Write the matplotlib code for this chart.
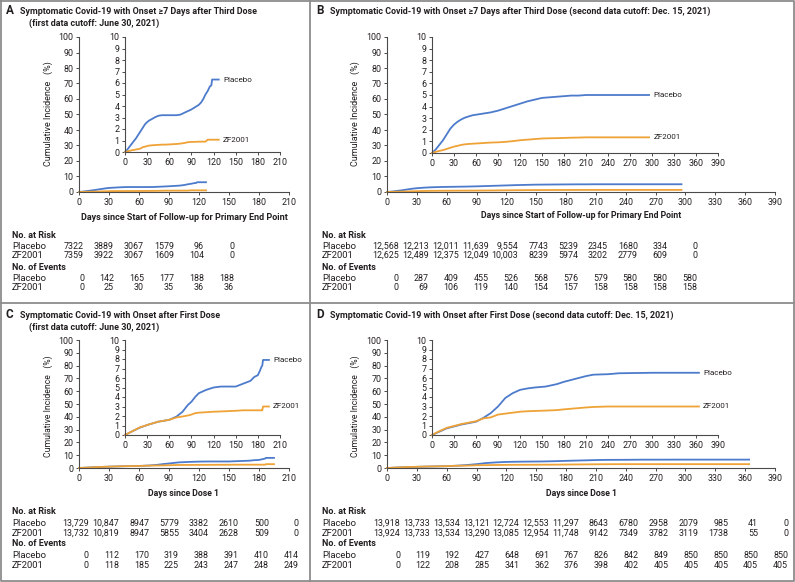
import numpy as np
import matplotlib
matplotlib.use("Agg")
import matplotlib.pyplot as plt
from matplotlib import transforms as mtransforms
from matplotlib.lines import Line2D

plt.rcParams['font.family'] = ['Roboto', 'DejaVu Sans']

W, H = 795, 582
BLUE = '#4d7bcb'
ORANGE = '#efa236'
INK = '#231f20'
AXC = '#4a4a4a'

# ---- curve data (cumulative incidence, %) ----
# A: onset >=7 days after third dose, first cutoff
a_days = [0, 3, 6, 9, 12, 15, 18, 21, 24, 27, 30, 33, 36, 40, 45, 50, 55, 60, 65, 70,
          75, 80, 85, 90, 95, 100, 103, 106, 109, 112, 115, 117, 118, 127]
a_placebo = [0, 0.2, 0.45, 0.7, 0.95, 1.2, 1.5, 1.8, 2.1, 2.4, 2.6, 2.75, 2.85, 3.0, 3.15, 3.2,
             3.2, 3.2, 3.2, 3.2, 3.25, 3.4, 3.55, 3.7, 3.9, 4.1, 4.3, 4.6, 5.0, 5.3, 5.7, 5.8, 6.3, 6.3]
a_zf = [0, 0.05, 0.1, 0.15, 0.18, 0.22, 0.25, 0.3, 0.42, 0.46, 0.52, 0.56, 0.58, 0.6, 0.62, 0.64,
        0.64, 0.66, 0.68, 0.7, 0.73, 0.78, 0.85, 0.88, 0.88, 0.9, 0.9, 0.9, 0.9, 1.07, 1.07, 1.07, 1.07, 1.07]

# B: onset >=7 days after third dose, second cutoff
b_days = [0, 5, 10, 15, 20, 25, 30, 35, 40, 45, 50, 55, 60, 70, 80, 90, 100, 110, 120, 130,
          140, 150, 160, 170, 180, 190, 200, 210, 240, 270, 296]
b_placebo = [0, 0.3, 0.7, 1.1, 1.6, 2.1, 2.45, 2.7, 2.9, 3.05, 3.15, 3.25, 3.3, 3.4, 3.5, 3.65,
             3.85, 4.05, 4.25, 4.45, 4.6, 4.75, 4.8, 4.85, 4.9, 4.95, 4.95, 5.0, 5.0, 5.0, 5.0]
b_zf = [0, 0.1, 0.18, 0.25, 0.35, 0.45, 0.55, 0.62, 0.7, 0.75, 0.78, 0.8, 0.82, 0.86, 0.9, 0.92,
        0.96, 1.02, 1.1, 1.15, 1.2, 1.25, 1.27, 1.28, 1.3, 1.32, 1.33, 1.35, 1.35, 1.35, 1.35]

# C: onset after first dose, first cutoff
c_days = [0, 10, 20, 30, 45, 60, 70, 78, 85, 90, 95, 100, 110, 120, 130, 150, 160, 170, 175,
          180, 183, 185, 186, 187, 195]
c_placebo = [0, 0.4, 0.77, 1.05, 1.4, 1.6, 1.95, 2.45, 3.15, 3.5, 4.0, 4.4, 4.75, 5.0, 5.1, 5.1,
             5.4, 5.7, 6.1, 6.3, 6.8, 7.2, 7.3, 7.9, 7.9]
c_zf = [0, 0.4, 0.8, 1.05, 1.4, 1.6, 1.85, 1.95, 2.05, 2.15, 2.3, 2.35, 2.4, 2.45, 2.48, 2.55,
        2.6, 2.6, 2.6, 2.6, 2.6, 2.6, 2.6, 3.0, 3.0]

# D: onset after first dose, second cutoff
d_days = [0, 10, 20, 30, 40, 50, 60, 70, 80, 90, 100, 110, 120, 130, 140, 155, 170, 180, 195,
          210, 220, 240, 255, 300, 364]
d_placebo = [0, 0.35, 0.7, 0.9, 1.1, 1.25, 1.4, 1.8, 2.3, 3.0, 3.9, 4.4, 4.75, 4.9, 5.0, 5.1,
             5.35, 5.6, 5.9, 6.2, 6.35, 6.4, 6.5, 6.55, 6.55]
d_zf = [0, 0.4, 0.75, 0.95, 1.15, 1.3, 1.45, 1.75, 1.85, 2.15, 2.25, 2.35, 2.45, 2.5, 2.53,
        2.57, 2.62, 2.7, 2.8, 2.9, 2.95, 3.0, 3.0, 3.0, 3.0]

# ---- risk tables ----
a_risk_pl = ['7322', '3889', '3067', '1579', '96', '0']
a_risk_zf = ['7359', '3922', '3067', '1609', '104', '0']
a_ev_pl = ['0', '142', '165', '177', '188', '188']
a_ev_zf = ['0', '25', '30', '35', '36', '36']

b_risk_pl = ['12,568', '12,213', '12,011', '11,639', '9,554', '7743', '5239', '2345', '1680', '334', '0']
b_risk_zf = ['12,625', '12,489', '12,375', '12,049', '10,003', '8239', '5974', '3202', '2779', '609', '0']
b_ev_pl = ['0', '287', '409', '455', '526', '568', '576', '579', '580', '580', '580']
b_ev_zf = ['0', '69', '106', '119', '140', '154', '157', '158', '158', '158', '158']

c_risk_pl = ['13,729', '10,847', '8947', '5779', '3382', '2610', '500', '0']
c_risk_zf = ['13,732', '10,819', '8947', '5855', '3404', '2628', '509', '0']
c_ev_pl = ['0', '112', '170', '319', '388', '391', '410', '414']
c_ev_zf = ['0', '118', '185', '225', '243', '247', '248', '249']

d_risk_pl = ['13,918', '13,733', '13,534', '13,121', '12,724', '12,553', '11,297', '8643',
             '6780', '2958', '2079', '985', '41', '0']
d_risk_zf = ['13,924', '13,733', '13,534', '13,290', '13,085', '12,954', '11,748', '9142',
             '7349', '3782', '3119', '1738', '55', '0']
d_ev_pl = ['0', '119', '192', '427', '648', '691', '767', '826', '842', '849', '850', '850', '850', '850']
d_ev_zf = ['0', '122', '208', '285', '341', '362', '376', '398', '402', '405', '405', '405', '405', '405']

fig = plt.figure(figsize=(W / 100, H / 100), dpi=100)
renderer = fig.canvas.get_renderer()


def fx(x):
    return x / W


def fy(y):
    return 1 - y / H


def box(l, r, t, b):
    return [fx(l), fy(b), (r - l) / W, (b - t) / H]


def fit(t, target):
    # scale the font so the text spans target pixels
    bb = t.get_window_extent(renderer)
    w = bb.height if t.get_rotation() == 90 else bb.width
    t.set_fontsize(t.get_fontsize() * target / w)
    return t


def ftext(x, y, s, target=None, **kw):
    kw.setdefault('color', INK)
    kw.setdefault('va', 'center')
    t = fig.text(fx(x), fy(y), s, **kw)
    if target:
        fit(t, target)
    return t


def fitted_size(s, target, **kw):
    t = ftext(0, 0, s, target=target, **kw)
    fs = t.get_fontsize()
    t.remove()
    return fs


NUM_FS = fitted_size('13,918', 27, fontsize=7)
LAB_FS = NUM_FS * 1.06
HEAD_FS = fitted_size('No. at Risk', 44, fontsize=7, fontweight='bold')
SER_FS = fitted_size('Placebo', 29, fontsize=7)


def style_ax(ax, xmax, ymax, ystep):
    for side in ['top', 'right']:
        ax.spines[side].set_visible(False)
    for side in ['left', 'bottom']:
        ax.spines[side].set_color(AXC)
        ax.spines[side].set_linewidth(0.8)
    ax.set_xlim(0, xmax)
    ax.set_ylim(0, ymax)
    ax.set_xticks(np.arange(0, xmax + 1, 30))
    ax.set_yticks(np.arange(0, ymax + 0.01, ystep))
    ax.tick_params(length=2.5, width=0.7, color=AXC, labelsize=6.4, labelcolor=INK, pad=1.5)
    ax.patch.set_alpha(0)


def panel(days, pl, zf, main_box, inset_box, xmax):
    ax = fig.add_axes(main_box)
    style_ax(ax, xmax, 100, 10)
    ax.plot(days, pl, color=BLUE, lw=1.3, clip_on=False)
    ax.plot(days, zf, color=ORANGE, lw=1.3, clip_on=False)
    ins = fig.add_axes(inset_box)
    ins.set_facecolor('white')
    style_ax(ins, xmax, 10, 1)
    ins.patch.set_alpha(1)
    ins.plot(days, pl, color=BLUE, lw=1.3, clip_on=False)
    ins.plot(days, zf, color=ORANGE, lw=1.3, clip_on=False)
    for name, v in [('Placebo', pl[-1]), ('ZF2001', zf[-1])]:
        ins.annotate(name, (days[-1], v), xytext=(3, 0), textcoords='offset points',
                     va='center', ha='left', fontsize=SER_FS, color=INK)
    return ax


def table(ax, row_x, ys, rows, off_px):
    blend = mtransforms.blended_transform_factory(ax.transData, fig.transFigure)
    tr = mtransforms.offset_copy(blend, fig=fig, x=off_px * 72 / 100, y=0, units='points')
    heads = ['No. at Risk', None, None, 'No. of Events', None, None]
    names = [None, 'Placebo', 'ZF2001', None, 'Placebo', 'ZF2001']
    r = 0
    for i, y in enumerate(ys):
        if heads[i]:
            ftext(row_x, y, heads[i], fontsize=HEAD_FS, fontweight='bold')
            continue
        ftext(row_x, y, names[i], fontsize=LAB_FS)
        for k, v in enumerate(rows[r]):
            ax.text(30 * k, fy(y), v, transform=tr, ha='right', va='center',
                    fontsize=NUM_FS, color=INK)
        r += 1


# ---- panels ----
axA = panel(a_days, a_placebo, a_zf, box(79, 289, 37, 192), box(125, 280, 37, 152), 210)
axB = panel(b_days, b_placebo, b_zf, box(387, 775, 37, 192), box(432, 718, 37, 153), 390)
axC = panel(c_days, c_placebo, c_zf, box(79, 289, 340, 468), box(125, 280, 340, 435), 210)
axD = panel(d_days, d_placebo, d_zf, box(387, 775, 340, 468), box(432, 718, 340, 435), 390)

# titles
TB = dict(fontsize=7.5, fontweight='bold')
ftext(6, 11, 'A', fontsize=8.5, fontweight='bold')
tA = ftext(20, 11, 'Symptomatic Covid-19 with Onset \u22657 Days after Third Dose', target=237, **TB)
TITLE_FS = tA.get_fontsize()
ftext(29, 23, '(first data cutoff: June 30, 2021)', fontsize=TITLE_FS, fontweight='bold')
ftext(316, 11, 'B', fontsize=8.5, fontweight='bold')
ftext(330, 11, 'Symptomatic Covid-19 with Onset \u22657 Days after Third Dose (second data cutoff: Dec. 15, 2021)',
      fontsize=TITLE_FS, fontweight='bold')
ftext(6, 315, 'C', fontsize=8.5, fontweight='bold')
ftext(20, 315, 'Symptomatic Covid-19 with Onset after First Dose', fontsize=TITLE_FS, fontweight='bold')
ftext(29, 327, '(first data cutoff: June 30, 2021)', fontsize=TITLE_FS, fontweight='bold')
ftext(316, 315, 'D', fontsize=8.5, fontweight='bold')
ftext(330, 315, 'Symptomatic Covid-19 with Onset after First Dose (second data cutoff: Dec. 15, 2021)',
      fontsize=TITLE_FS, fontweight='bold')

# axis labels
for x, y, L in [(48, 114, 105), (355, 114, 105), (48, 406, 101), (355, 406, 101)]:
    ftext(x, y, 'Cumulative Incidence   (%)', target=L, fontsize=7.5, rotation=90, ha='center')
XB = dict(fontsize=7, fontweight='bold', ha='center')
ftext(184, 218, 'Days since Start of Follow-up for Primary End Point', target=207, **XB)
ftext(581, 216, 'Days since Start of Follow-up for Primary End Point', target=204, **XB)
ftext(184, 494, 'Days since Dose 1', target=72, **XB)
ftext(581, 494, 'Days since Dose 1', target=72, **XB)

# risk tables
top_rows = [236, 246, 255, 268, 278, 288]
bot_rows = [512, 523, 533, 544, 555, 565]
table(axA, 12, top_rows, [a_risk_pl, a_risk_zf, a_ev_pl, a_ev_zf], 5)
table(axB, 322, top_rows, [b_risk_pl, b_risk_zf, b_ev_pl, b_ev_zf], 12)
table(axC, 12, bot_rows, [c_risk_pl, c_risk_zf, c_ev_pl, c_ev_zf], 10)
table(axD, 322, bot_rows, [d_risk_pl, d_risk_zf, d_ev_pl, d_ev_zf], 13)

# frame and dividers
GR = '#8c8c8c'
for xs, ys in [([1, 794, 794, 1, 1], [1, 1, 581, 581, 1]), ([310, 310], [1, 581]), ([1, 794], [303, 303])]:
    fig.add_artist(Line2D([fx(v) for v in xs], [fy(v) for v in ys], color=GR, lw=1.3))

fig.savefig('out.png', dpi=100)
